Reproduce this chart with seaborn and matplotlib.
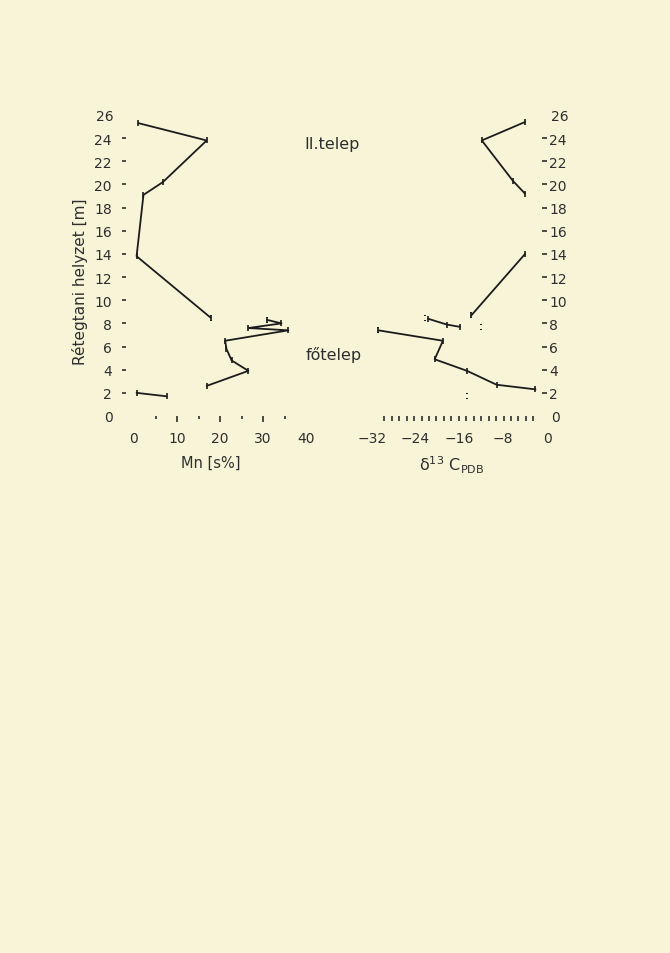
import numpy as np
import pandas as pd
import matplotlib
matplotlib.use("Agg")
import matplotlib.pyplot as plt
import seaborn as sns

# ---------------- data ----------------
# Left panel: Mn [s%] vs stratigraphic position [m]
mn_seg   = ["a"] * 6 + ["b"] * 9 + ["c"] * 2
mn_depth = [25.3, 23.8, 20.2, 19.1, 13.8, 8.5,
            8.3, 8.0, 7.6, 7.4, 6.5, 5.8, 4.8, 3.9, 2.6,
            2.0, 1.7]
mn_value = [1.0, 16.9, 6.7, 2.2, 0.6, 17.8,
            31.0, 34.3, 26.6, 35.9, 21.2, 21.5, 22.7, 26.6, 16.9,
            0.6, 7.6]
mn_dot_depth = [8.5, 8.3]
mn_dot_value = [17.8, 31.0]

# Right panel: delta13C PDB vs stratigraphic position [m]
c_seg   = ["a"] * 4 + ["b"] * 2 + ["c"] * 3 + ["d"] * 6
c_depth = [25.4, 23.8, 20.3, 19.2,
           14.0, 8.7,
           8.4, 7.9, 7.7,
           7.4, 6.5, 4.9, 3.9, 2.7, 2.3]
c_value = [-4.0, -11.9, -6.2, -4.0,
           -4.0, -13.8,
           -21.7, -18.3, -15.9,
           -30.8, -19.0, -20.5, -14.6, -9.2, -2.1]
c_dot_depth = [8.7, 7.7, 8.5, 7.4, 1.75]
c_dot_value = [-13.8, -12.1, -22.3, -30.8, -14.6]

depth_ticks = list(range(2, 25, 2))
mn_ticks = [0, 10, 20, 30, 40]
c_ticks = [-32, -24, -16, -8, 0]

# ---------------- styling ----------------
BG = "#f8f4d8"
INK = "#1c1c1c"
TXT = "#2e2e2e"
sns.set_style("white")
plt.rcParams["font.family"] = ["DejaVu Sans"]
plt.rcParams["text.color"] = TXT
plt.rcParams["xtick.color"] = INK
plt.rcParams["ytick.color"] = INK
plt.rcParams["xtick.labelcolor"] = TXT
plt.rcParams["ytick.labelcolor"] = TXT

W, H = 670, 954
fig = plt.figure(figsize=(W / 100, H / 100), dpi=100, facecolor=BG)

def fx(px):
    return px / W

def fy(py):
    return 1 - py / H

axL = fig.add_axes([fx(134), fy(417), (306 - 134) / W, (417 - 116) / H])
axR = fig.add_axes([fx(371.7), fy(417), (547 - 371.7) / W, (417 - 116) / H])

df_mn = pd.DataFrame({"seg": mn_seg, "depth": mn_depth, "val": mn_value})
df_c = pd.DataFrame({"seg": c_seg, "depth": c_depth, "val": c_value})

for ax, df, dx, dy in [(axL, df_mn, mn_dot_value, mn_dot_depth),
                       (axR, df_c, c_dot_value, c_dot_depth)]:
    ax.set_facecolor("none")
    sns.lineplot(data=df, x="val", y="depth", units="seg", estimator=None,
                 sort=False, orient="y", color=INK, lw=1.3, marker="|",
                 markersize=5, markeredgewidth=1.2, markeredgecolor=INK,
                 ax=ax, legend=False)
    sns.scatterplot(x=dx, y=dy, marker="$:$", s=22, color=INK,
                    linewidth=0, ax=ax, legend=False)
    for s in ax.spines.values():
        s.set_visible(False)
    ax.set_ylim(0, 26)
    ax.set_xlabel("")
    ax.set_ylabel("")

# ---- left panel axes ----
axL.set_xlim(0, 40)
axL.set_yticks(depth_ticks)
axL.set_yticks([0, 26], minor=True)
axL.set_yticklabels([str(t) for t in depth_ticks], fontsize=10)
axL.set_yticklabels(["0", "26"], minor=True, fontsize=10)
axL.spines["left"].set_position(("outward", 6))
axL.tick_params(axis="y", which="both", left=True, right=False)
axL.tick_params(axis="y", which="major", direction="out", length=3, width=1.1, pad=7)
axL.tick_params(axis="y", which="minor", direction="out", length=0, pad=9)

axL.set_xticks(mn_ticks)
axL.set_xticklabels([str(t) for t in mn_ticks], fontsize=10)
axL.set_xticks([5, 15, 25, 35], minor=True)
axL.tick_params(axis="x", which="both", bottom=True, top=False)
axL.tick_params(axis="x", which="major", direction="out", length=4.5, width=1.1, pad=6)
axL.tick_params(axis="x", which="minor", direction="out", length=2.5, width=1.1)
xt = axL.xaxis.get_major_ticks()
for i in (0, len(xt) - 1):
    xt[i].tick1line.set_visible(False)

# ---- right panel axes ----
axR.set_xlim(-32, 0)
axR.yaxis.tick_right()
axR.set_yticks(depth_ticks)
axR.set_yticks([0, 26], minor=True)
axR.set_yticklabels([str(t) for t in depth_ticks], fontsize=10)
axR.set_yticklabels(["0", "26"], minor=True, fontsize=10)
axR.tick_params(axis="y", which="both", right=True, left=False)
axR.tick_params(axis="y", which="major", direction="in", length=3.6, width=1.1, pad=1.5)
axR.tick_params(axis="y", which="minor", direction="in", length=0, pad=3)

axR.set_xticks(c_ticks)
axR.set_xticklabels([f"\u2212{abs(t)}" if t < 0 else "0" for t in c_ticks], fontsize=10)
axR.set_xticks(np.linspace(-29.7, -2.5, 21), minor=True)
axR.tick_params(axis="x", which="both", bottom=True, top=False)
axR.tick_params(axis="x", which="major", direction="out", length=0, pad=11)
axR.tick_params(axis="x", which="minor", direction="out", length=3.4, width=1.1)

# ---- texts ----
fig.text(fx(80), fy(282), "Rétegtani helyzet [m]", rotation=90,
         ha="center", va="center", fontsize=11)
fig.text(fx(211), fy(463), "Mn [s%]", ha="center", va="center", fontsize=10.5)
fig.text(fx(452), fy(465), "δ$^{13}$ C$_{\\mathrm{PDB}}$",
         ha="center", va="center", fontsize=11.5)
fig.text(fx(332), fy(145), "II.telep", ha="center", va="center", fontsize=11.5)
fig.text(fx(334), fy(355), "főtelep", ha="center", va="center", fontsize=11.5)

fig.savefig("out.png", dpi=100, facecolor=BG)
